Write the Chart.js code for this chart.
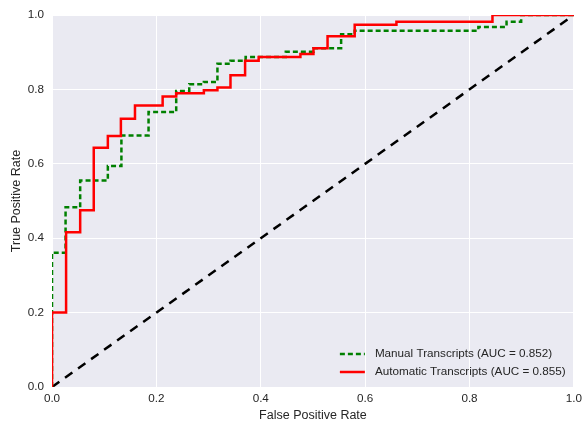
<!DOCTYPE html>
<html lang="en">
<head>
    <meta charset="UTF-8">
    <title>ROC</title>
    <style>
        html, body { margin: 0; padding: 0; background: #fff; }
        #wrap { width: 587px; height: 427px; position: relative; }
    </style>
</head>
<body>
<div id="wrap"><canvas id="roc"></canvas></div>
<script src="https://cdn.jsdelivr.net/npm/chart.js"></script>
<script>
// ROC corner points
const manualFpr = [0, 0, 0.026, 0.026, 0.054, 0.054, 0.107, 0.107, 0.133, 0.133, 0.185, 0.185, 0.238, 0.238, 0.263, 0.263, 0.291, 0.291, 0.317, 0.317, 0.342, 0.342, 0.371, 0.371, 0.448, 0.448, 0.501, 0.501, 0.554, 0.554, 0.58, 0.58, 0.817, 0.817, 0.871, 0.871, 0.899, 0.899, 1];
const manualTpr = [0, 0.361, 0.361, 0.483, 0.483, 0.555, 0.555, 0.594, 0.594, 0.676, 0.676, 0.739, 0.739, 0.796, 0.796, 0.814, 0.814, 0.820, 0.820, 0.869, 0.869, 0.877, 0.877, 0.887, 0.887, 0.901, 0.901, 0.911, 0.911, 0.948, 0.948, 0.958, 0.958, 0.968, 0.968, 0.982, 0.982, 1, 1];

const autoFpr = [0, 0, 0.027, 0.027, 0.054, 0.054, 0.080, 0.080, 0.107, 0.107, 0.132, 0.132, 0.159, 0.159, 0.212, 0.212, 0.238, 0.238, 0.291, 0.291, 0.317, 0.317, 0.342, 0.342, 0.370, 0.370, 0.396, 0.396, 0.476, 0.476, 0.501, 0.501, 0.528, 0.528, 0.580, 0.580, 0.660, 0.660, 0.844, 0.844, 1];
const autoTpr = [0, 0.2, 0.2, 0.416, 0.416, 0.475, 0.475, 0.643, 0.643, 0.675, 0.675, 0.721, 0.721, 0.757, 0.757, 0.781, 0.781, 0.790, 0.790, 0.798, 0.798, 0.805, 0.805, 0.838, 0.838, 0.877, 0.877, 0.887, 0.887, 0.895, 0.895, 0.911, 0.911, 0.943, 0.943, 0.974, 0.974, 0.982, 0.982, 1, 1];

const chanceFpr = [0, 1];
const chanceTpr = [0, 1];

const seriesLabels = ['Manual Transcripts (AUC = 0.852)', 'Automatic Transcripts (AUC = 0.855)'];
const tickValues = [0, 0.2, 0.4, 0.6, 0.8, 1.0];

function toPoints(xs, ys) {
    return xs.map((x, i) => ({ x: x, y: ys[i] }));
}

const FONT = 'Liberation Sans, Arial, sans-serif';
const TEXT = '#262626';

// grey axes background like seaborn darkgrid
const bgPlugin = {
    id: 'bg',
    beforeDraw(chart) {
        const { ctx, chartArea: a } = chart;
        ctx.save();
        ctx.fillStyle = '#EAEAF2';
        ctx.fillRect(a.left, a.top, a.right - a.left, a.bottom - a.top);
        ctx.restore();
    }
};

// legend drawn inside the plot, lower right
const innerLegend = {
    id: 'innerLegend',
    afterDatasetsDraw(chart) {
        const { ctx, chartArea: a } = chart;
        const items = [
            { text: seriesLabels[0], color: '#008000', dash: [5, 3] },
            { text: seriesLabels[1], color: '#FF0000', dash: [] }
        ];
        ctx.save();
        ctx.font = '11.7px ' + FONT;
        ctx.textBaseline = 'middle';
        const x0 = a.right - 234;
        let y = a.bottom - 33;
        items.forEach(it => {
            ctx.strokeStyle = it.color;
            ctx.lineWidth = 2.5;
            ctx.setLineDash(it.dash);
            ctx.beginPath();
            ctx.moveTo(x0, y);
            ctx.lineTo(x0 + 25, y);
            ctx.stroke();
            ctx.setLineDash([]);
            ctx.fillStyle = TEXT;
            ctx.fillText(it.text, x0 + 35, y);
            y += 18;
        });
        ctx.restore();
    }
};

new Chart(document.getElementById('roc'), {
    type: 'scatter',
    data: {
        datasets: [
            {
                label: 'chance',
                data: toPoints(chanceFpr, chanceTpr),
                showLine: true,
                borderColor: '#000',
                borderWidth: 2.5,
                borderDash: [9, 7],
                pointRadius: 0,
                order: 3
            },
            {
                label: seriesLabels[0],
                data: toPoints(manualFpr, manualTpr),
                showLine: true,
                borderColor: '#008000',
                borderWidth: 2.5,
                borderDash: [5, 3],
                pointRadius: 0,
                order: 2
            },
            {
                label: seriesLabels[1],
                data: toPoints(autoFpr, autoTpr),
                showLine: true,
                borderColor: '#FF0000',
                borderWidth: 2.5,
                pointRadius: 0,
                order: 1
            }
        ]
    },
    options: {
        responsive: true,
        maintainAspectRatio: false,
        animation: false,
        layout: { padding: { top: 14, right: 10, left: 0, bottom: 0 } },
        plugins: {
            legend: { display: false },
            tooltip: { enabled: false }
        },
        scales: {
            x: {
                type: 'linear',
                min: 0,
                max: 1,
                afterBuildTicks: s => { s.ticks = tickValues.map(v => ({ value: v })); },
                afterFit: s => { s.height = 40; },
                grid: { color: '#FFFFFF', lineWidth: 1, drawTicks: false },
                border: { display: false },
                ticks: {
                    padding: 5,
                    color: TEXT,
                    font: { family: FONT, size: 11.7 },
                    callback: v => v.toFixed(1),
                    maxRotation: 0
                },
                title: {
                    display: true,
                    text: 'False Positive Rate',
                    color: TEXT,
                    font: { family: FONT, size: 12.5 },
                    padding: { top: 3, bottom: 4 }
                }
            },
            y: {
                type: 'linear',
                min: 0,
                max: 1,
                afterBuildTicks: s => { s.ticks = tickValues.map(v => ({ value: v })); },
                afterFit: s => { s.width = 52; },
                grid: { color: '#FFFFFF', lineWidth: 1, drawTicks: false },
                border: { display: false },
                ticks: {
                    padding: 8,
                    color: TEXT,
                    font: { family: FONT, size: 11.7 },
                    callback: v => v.toFixed(1)
                },
                title: {
                    display: true,
                    text: 'True Positive Rate',
                    color: TEXT,
                    font: { family: FONT, size: 12.5 },
                    padding: { top: 9, bottom: 0 }
                }
            }
        }
    },
    plugins: [bgPlugin, innerLegend]
});
</script>
</body>
</html>
